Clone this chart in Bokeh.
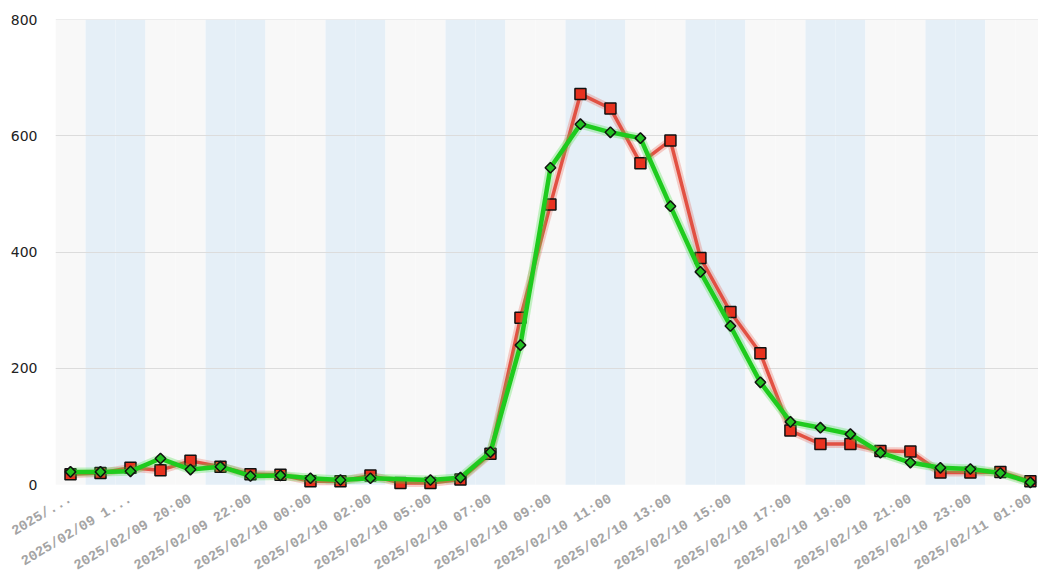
import math
from bokeh.plotting import figure
from bokeh.models import Range1d, FixedTicker
from bokeh.embed import file_html
from bokeh.resources import INLINE

# ---------------- data ----------------
categories = [
    "2025/02/09 16:00", "2025/02/09 17:00", "2025/02/09 18:00", "2025/02/09 19:00",
    "2025/02/09 20:00", "2025/02/09 21:00", "2025/02/09 22:00", "2025/02/09 23:00",
    "2025/02/10 00:00", "2025/02/10 01:00", "2025/02/10 02:00", "2025/02/10 03:00",
    "2025/02/10 05:00", "2025/02/10 06:00", "2025/02/10 07:00", "2025/02/10 08:00",
    "2025/02/10 09:00", "2025/02/10 10:00", "2025/02/10 11:00", "2025/02/10 12:00",
    "2025/02/10 13:00", "2025/02/10 14:00", "2025/02/10 15:00", "2025/02/10 16:00",
    "2025/02/10 17:00", "2025/02/10 18:00", "2025/02/10 19:00", "2025/02/10 20:00",
    "2025/02/10 21:00", "2025/02/10 22:00", "2025/02/10 23:00", "2025/02/11 00:00",
    "2025/02/11 01:00",
]
series_red = [18, 20, 29, 25, 41, 31, 18, 17, 6, 6, 16, 3,
              3, 9, 53, 287, 482, 672, 647, 553, 592, 390, 297, 226,
              93, 70, 70, 58, 57, 21, 21, 22, 6]
series_green = [22, 22, 23, 45, 26, 31, 15, 16, 11, 8, 11, None,
                8, 12, 56, 240, 545, 620, 606, 596, 479, 366, 273, 176,
                108, 98, 87, 55, 38, 29, 27, 20, 4]
tick_labels = ["2025/...", "2025/02/09 1...", "2025/02/09 20:00", "2025/02/09 22:00",
               "2025/02/10 00:00", "2025/02/10 02:00", "2025/02/10 05:00",
               "2025/02/10 07:00", "2025/02/10 09:00", "2025/02/10 11:00",
               "2025/02/10 13:00", "2025/02/10 15:00", "2025/02/10 17:00",
               "2025/02/10 19:00", "2025/02/10 21:00", "2025/02/10 23:00",
               "2025/02/11 01:00"]
y_ticks = [0, 200, 400, 600, 800]

# ---------------- figure ----------------
n = len(categories)
xs = list(range(n))

p = figure(width=1038, height=583, output_backend="svg", toolbar_location=None,
           x_range=Range1d(-0.5, 32.27), y_range=Range1d(-10, 800),
           min_border_left=55, min_border_right=0, min_border_top=19,
           min_border_bottom=92)
p.background_fill_color = "white"
p.border_fill_color = "white"
p.outline_line_color = None
p.xgrid.visible = False
p.ygrid.visible = False

# alternating bands
band_left = [i - 0.5 for i in xs]
band_right = [i + 0.5 for i in xs]
band_color = ["#e5eff7" if ((i + 1) // 2) % 2 == 1 else "#f8f8f8" for i in xs]
p.quad(left=band_left, right=band_right, bottom=0, top=y_ticks[-1],
       fill_color=band_color, line_color=None)

# gridlines
p.hspan(y=y_ticks[1:], line_color="#dcdcdc", line_width=1)

# red series
p.line(xs, series_red, line_color="#e8432f", line_width=8, line_alpha=0.25)
p.line(xs, series_red, line_color="#e04434", line_width=3.5, line_alpha=0.9)
p.scatter(xs, series_red, marker="square", size=11, fill_color="#e8321f",
          line_color="#111111", line_width=1.5)

# green series (gap skipped, line connects)
gx = [x for x, v in zip(xs, series_green) if v is not None]
gy = [v for v in series_green if v is not None]
p.line(gx, gy, line_color="#44dd44", line_width=9, line_alpha=0.3)
p.line(gx, gy, line_color="#1ecb1e", line_width=4.5)
p.scatter(gx, gy, marker="square", angle=math.pi / 4, size=7.5,
          fill_color="#22c022", line_color="#111111", line_width=1.5)

# axes
p.yaxis.ticker = FixedTicker(ticks=y_ticks)
p.yaxis.axis_line_color = None
p.yaxis.major_tick_line_color = None
p.yaxis.minor_tick_line_color = None
p.yaxis.major_label_standoff = 12
p.yaxis.major_label_text_font = "DejaVu Sans"
p.yaxis.major_label_text_font_size = "14px"
p.yaxis.major_label_text_color = "#222222"

tick_pos = list(range(0, n, 2))
p.xaxis.ticker = FixedTicker(ticks=tick_pos)
p.xaxis.major_label_overrides = {t: lab for t, lab in zip(tick_pos, tick_labels)}
p.xaxis.axis_line_color = None
p.xaxis.major_tick_line_color = None
p.xaxis.minor_tick_line_color = None
p.xaxis.major_label_orientation = 0.54
p.xaxis.major_label_standoff = 1
p.xaxis.major_label_text_font = "Liberation Mono"
p.xaxis.major_label_text_font_style = "bold"
p.xaxis.major_label_text_font_size = "14px"
p.xaxis.major_label_text_color = "#a4a4a4"

open("out.html", "w").write(file_html(p, INLINE))
